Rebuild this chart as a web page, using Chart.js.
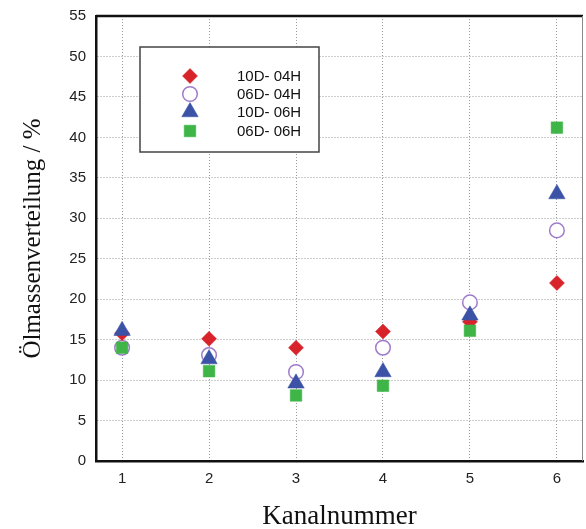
<!DOCTYPE html>
<html>
<head>
<meta charset="utf-8">
<script src="https://cdn.jsdelivr.net/npm/chart.js@4/dist/chart.umd.min.js"></script>
<style>
  html, body { margin: 0; padding: 0; background: #fff; overflow: hidden; }
  canvas { display: block; }
</style>
</head>
<body>
<canvas id="chart" width="586" height="529"></canvas>
<script>
// --- daten ---
const kanal = [1, 2, 3, 4, 5, 6];
const yTicks = [0, 5, 10, 15, 20, 25, 30, 35, 40, 45, 50, 55];
const d10D04H = [15.8, 15.1, 14.0, 16.0, 17.2, 22.0];
const d06D04H = [14.0, 13.1, 11.0, 14.0, 19.6, 28.5];
const d10D06H = [16.1, 12.6, 9.6, 11.0, 18.0, 33.0];
const d06D06H = [14.0, 11.1, 8.1, 9.3, 16.1, 41.2];

const toPoints = arr => arr.map((v, i) => ({ x: kanal[i], y: v }));

function drawMarker(ctx, ds, x, y) {
    ctx.save();
    ctx.fillStyle = ds.backgroundColor;
    ctx.strokeStyle = ds.borderColor;
    ctx.lineWidth = ds.borderWidth;
    Chart.helpers.drawPoint(ctx, {
        pointStyle: ds.pointStyle,
        radius: ds.pointRadius,
        rotation: 0,
        borderWidth: ds.borderWidth
    }, x, y);
    ctx.restore();
}

// plotbereich rechts bis fast an den rand ziehen
const areaPlugin = {
    id: 'areaFix',
    afterLayout(chart) {
        const x = chart.scales.x;
        const R = chart.width - 3;
        x.right = R;
        x.width = R - x.left;
        chart.chartArea.right = R;
        chart.chartArea.width = R - chart.chartArea.left;
        if (typeof x.configure === 'function') x.configure();
    }
};

// legende im kasten + rahmen oben/rechts
const boxPlugin = {
    id: 'boxLegend',
    afterDatasetsDraw(chart) {
        const { ctx, chartArea } = chart;
        ctx.save();
        // rahmen oben (schwarz) und rechts (grau)
        ctx.strokeStyle = '#111';
        ctx.lineWidth = 2.5;
        ctx.beginPath();
        ctx.moveTo(chartArea.left, chartArea.top);
        ctx.lineTo(chartArea.right, chartArea.top);
        ctx.stroke();
        ctx.strokeStyle = '#8a8a8a';
        ctx.lineWidth = 1;
        ctx.beginPath();
        ctx.moveTo(chartArea.right - 0.5, chartArea.top);
        ctx.lineTo(chartArea.right - 0.5, chartArea.bottom);
        ctx.stroke();

        // legendenkasten
        ctx.fillStyle = '#fff';
        ctx.fillRect(140, 47, 179, 105);
        ctx.strokeStyle = '#444';
        ctx.lineWidth = 1.5;
        ctx.strokeRect(140, 47, 179, 105);

        const rows = [76, 94, 112, 131];
        ctx.font = '15px "Liberation Sans", Arial, sans-serif';
        ctx.textBaseline = 'middle';
        chart.data.datasets.forEach((ds, i) => {
            drawMarker(ctx, ds, 190, rows[i]);
            ctx.fillStyle = '#111';
            ctx.fillText(ds.label, 237, rows[i] + 1);
        });
        ctx.restore();
    }
};

const ctx = document.getElementById('chart').getContext('2d');
new Chart(ctx, {
    type: 'scatter',
    data: {
        datasets: [
            {
                label: '10D- 04H', data: toPoints(d10D04H), order: 3,
                pointStyle: 'rectRot', pointRadius: 7.5, borderWidth: 0.5,
                backgroundColor: '#d9232b', borderColor: '#d9232b'
            },
            {
                label: '06D- 04H', data: toPoints(d06D04H), order: 4,
                pointStyle: 'circle', pointRadius: 7.3, borderWidth: 1.5,
                backgroundColor: '#ffffff', borderColor: '#9f7ccb'
            },
            {
                label: '10D- 06H', data: toPoints(d10D06H), order: 1,
                pointStyle: 'triangle', pointRadius: 9.5, borderWidth: 0.5,
                backgroundColor: '#3b52a6', borderColor: '#3b52a6'
            },
            {
                label: '06D- 06H', data: toPoints(d06D06H), order: 2,
                pointStyle: 'rect', pointRadius: 8.2, borderWidth: 0.5,
                backgroundColor: '#3fb548', borderColor: '#3fb548'
            }
        ]
    },
    options: {
        responsive: false,
        animation: false,
        layout: { padding: { top: 16, right: 3, left: 0, bottom: 0 } },
        plugins: {
            legend: { display: false },
            tooltip: { enabled: false }
        },
        scales: {
            x: {
                type: 'linear',
                min: 0.7,
                max: 6.3,
                afterBuildTicks: s => { s.ticks = kanal.map(v => ({ value: v })); },
                afterFit: s => { s.height = 68; s.paddingLeft = 0; s.paddingRight = 0; },
                grid: { color: '#9a9a9a', drawTicks: false },
                border: { display: true, color: '#111', width: 2.5, dash: [1, 2] },
                ticks: {
                    padding: 9,
                    color: '#222',
                    font: { family: '"Liberation Sans", Arial, sans-serif', size: 15 }
                },
                title: {
                    display: true,
                    text: 'Kanalnummer',
                    color: '#111',
                    padding: { top: 0, bottom: 0 },
                    font: { family: '"Liberation Serif", "Times New Roman", serif', size: 27, lineHeight: 0.9 }
                }
            },
            y: {
                min: 0,
                max: 55,
                afterBuildTicks: s => { s.ticks = yTicks.map(v => ({ value: v })); },
                afterFit: s => { s.width = 96; s.paddingTop = 0; s.paddingBottom = 0; },
                grid: { color: '#9a9a9a', drawTicks: false },
                border: { display: true, color: '#111', width: 2.5, dash: [1, 2] },
                ticks: {
                    padding: 10,
                    color: '#222',
                    font: { family: '"Liberation Sans", Arial, sans-serif', size: 15 }
                },
                title: {
                    display: true,
                    text: 'Ölmassenverteilung / %',
                    color: '#111',
                    padding: { top: 18, bottom: 0 },
                    font: { family: '"Liberation Serif", "Times New Roman", serif', size: 25 }
                }
            }
        }
    },
    plugins: [areaPlugin, boxPlugin]
});
</script>
</body>
</html>
